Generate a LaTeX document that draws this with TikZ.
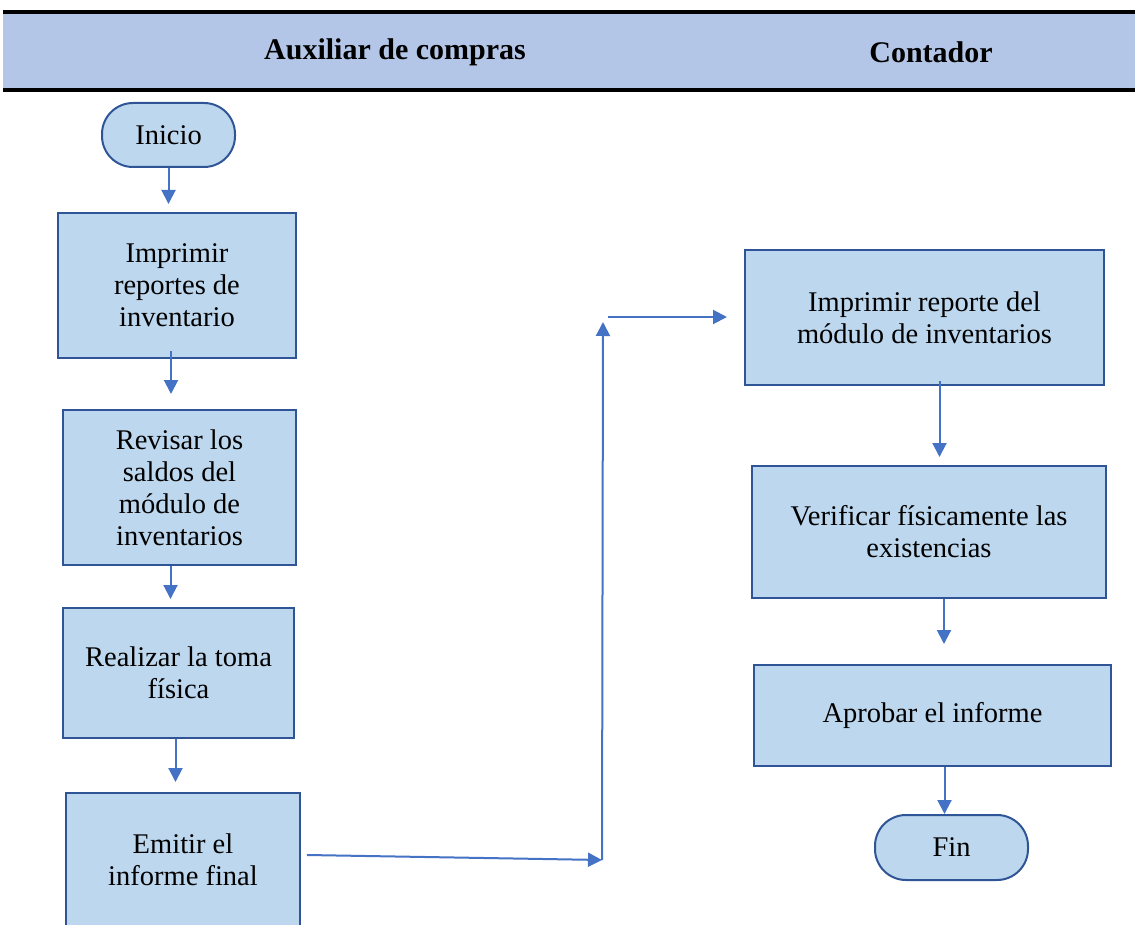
\documentclass[tikz,border=0pt]{standalone}
\usepackage{fontspec}
\setmainfont{Liberation Serif}
\usetikzlibrary{arrows.meta,positioning}
\definecolor{cabecera}{HTML}{B4C6E7}
\definecolor{relleno}{HTML}{BDD7EE}
\definecolor{borde}{HTML}{2F5597}
\definecolor{azul}{HTML}{4472C4}

\begin{document}
\begin{tikzpicture}[x=1pt,y=-1pt,
  font=\fontsize{28.5}{32}\selectfont,
  proceso/.style={draw=borde,fill=relleno,line width=2pt,align=center,inner sep=0pt},
  terminal/.style={proceso,rounded corners=31pt},
  flecha/.style={draw=azul,line width=2pt,-{Triangle[length=14pt,width=14pt]}}]

\useasboundingbox (0,0) rectangle (1135,925);
\clip (0,0) rectangle (1135,925);

\fill[cabecera] (3,12) rectangle (1135,90);
\draw[line width=3.5pt] (3,12) -- (1135,12) (3,90) -- (1135,90);
\node[font=\fontsize{30}{32}\selectfont\bfseries] (auxiliar) at (395,52) {Auxiliar de compras};
\node[font=\fontsize{30}{32}\selectfont\bfseries] (contador) at (931,52) {Contador};

\node[terminal,minimum width=133pt,minimum height=64pt] (inicio) at (168.5,135) {Inicio};
\node[proceso,minimum width=238pt,minimum height=145pt] (reportes) at (177,285.5) {Imprimir\\reportes de\\inventario};
\node[proceso,minimum width=233pt,minimum height=155pt] (saldos) at (179.5,487.5) {Revisar los\\saldos del\\módulo de\\inventarios};
\node[proceso,minimum width=231pt,minimum height=130pt] (toma) at (178.5,673) {Realizar la toma\\física};
\node[proceso,minimum width=234pt,minimum height=134pt] (emitir) at (183,860) {Emitir el\\informe final};

\node[proceso,minimum width=359pt,minimum height=135pt] (modulo) at (924.5,317.5) {Imprimir reporte del\\módulo de inventarios};
\node[proceso,minimum width=354pt,minimum height=132pt] (verificar) at (929,532) {Verificar físicamente las\\existencias};
\node[proceso,minimum width=357pt,minimum height=101pt] (aprobar) at (932.5,715.5) {Aprobar el informe};
\node[terminal,minimum width=153pt,minimum height=65pt] (fin) at (951.5,847.5) {Fin};

\coordinate (codo) at (602,860);
\coordinate (tope) at (603,322);
\coordinate (salto) at (608,317);

\draw[flecha,shorten >=8pt] (inicio.south) -- (inicio.south |- reportes.north);
\draw[flecha,shorten >=15pt] ([xshift=-6pt,yshift=8pt]reportes.south) -- ([xshift=-6pt]reportes.south |- saldos.north);
\draw[flecha,shorten >=8pt] ([xshift=-9pt]saldos.south) -- ([xshift=-9pt]saldos.south |- toma.north);
\draw[flecha,shorten >=10pt] ([xshift=-3pt]toma.south) -- ([xshift=-3pt]toma.south |- emitir.north);
\draw[flecha] ([xshift=6pt,yshift=5pt]emitir.east) -- (codo);
\draw[flecha] (codo) -- (tope);
\draw[flecha,shorten >=17pt] (salto) -- (salto -| modulo.west);
\draw[flecha,shorten >=8pt] ([xshift=15pt,yshift=5pt]modulo.south) -- ([xshift=15pt]modulo.south |- verificar.north);
\draw[flecha,shorten >=20pt] ([xshift=15pt]verificar.south) -- ([xshift=15pt]verificar.south |- aprobar.north);
\draw[flecha] ([xshift=12pt]aprobar.south) -- ([xshift=12pt]aprobar.south |- fin.north);

\end{tikzpicture}
\end{document}
